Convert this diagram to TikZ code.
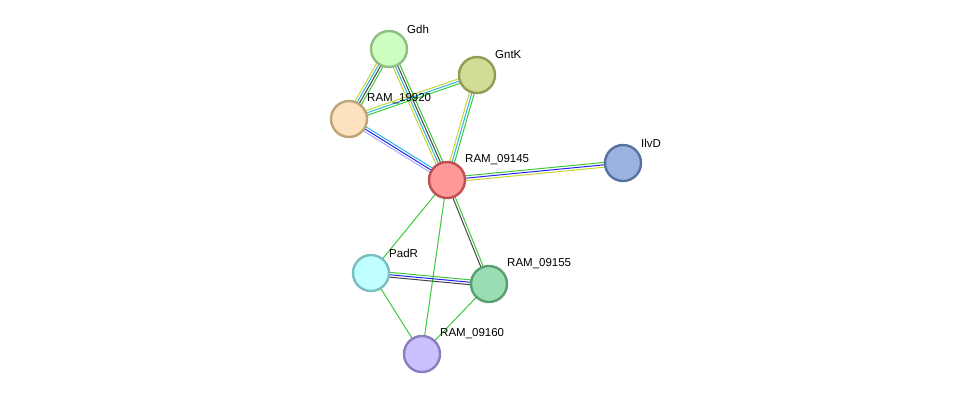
\documentclass[tikz,border=0pt]{standalone}
\usepackage{fontspec}
\setmainfont{Liberation Sans}
\usetikzlibrary{calc}
\pgfdeclarelayer{background}
\pgfsetlayers{background,main}
\definecolor{eg}{HTML}{3CC83C}
\definecolor{ec}{HTML}{27B8DC}
\definecolor{ed}{HTML}{444444}
\definecolor{ey}{HTML}{C6D630}
\definecolor{eb}{HTML}{2424EE}
\definecolor{ep}{HTML}{A8A8FF}
\tikzset{
  prot/.style={circle, minimum size=36pt, inner sep=0pt, line width=2.4pt},
  lbl/.style={anchor=west, font=\fontsize{11.5}{12}\selectfont, inner sep=0pt},
  edgeline/.style={line width=1pt},
}
\newcommand\medge[3]{%
  \foreach \c [count=\i] in {#3} {\xdef\nlines{\i}}%
  \foreach \c [count=\i] in {#3} {%
    \pgfmathsetmacro\off{(\i-(\nlines+1)/2)*2.4}%
    \draw[\c, edgeline] ($(#1)!\off pt!90:(#2)$) -- ($(#2)!\off pt!-90:(#1)$);%
  }%
}
\begin{document}
\begin{tikzpicture}[x=1pt,y=-1pt]
\useasboundingbox (0,0) rectangle (976,400);
\node[prot, fill={rgb,255:red,204;green,255;blue,192}, draw={rgb,255:red,143;green,190;blue,128}] (gdh) at (389,49) {};
\node[prot, fill={rgb,255:red,211;green,220;blue,150}, draw={rgb,255:red,146;green,156;blue,82}] (gntk) at (477,75) {};
\node[prot, fill={rgb,255:red,253;green,226;blue,192}, draw={rgb,255:red,190;green,164;blue,122}] (r19920) at (349,119) {};
\node[prot, fill={rgb,255:red,255;green,153;blue,153}, draw={rgb,255:red,190;green,80;blue,80}] (r09145) at (447,180) {};
\node[prot, fill={rgb,255:red,154;green,179;blue,224}, draw={rgb,255:red,88;green,114;blue,160}] (ilvd) at (623,163) {};
\node[prot, fill={rgb,255:red,192;green,255;blue,255}, draw={rgb,255:red,122;green,190;blue,190}] (padr) at (371,273) {};
\node[prot, fill={rgb,255:red,153;green,221;blue,179}, draw={rgb,255:red,88;green,158;blue,114}] (r09155) at (489,284) {};
\node[prot, fill={rgb,255:red,204;green,192;blue,255}, draw={rgb,255:red,138;green,126;blue,190}] (r09160) at (422,354) {};
\node[lbl] (lgdh) at (407,29) {Gdh};
\node[lbl] (lgntk) at (495,55) {GntK};
\node[lbl] (l19920) at (367,99) {RAM\_19920};
\node[lbl] (l09145) at (465,160) {RAM\_09145};
\node[lbl] (lilvd) at (641,143) {IlvD};
\node[lbl] (lpadr) at (389,253) {PadR};
\node[lbl] (l09155) at (507,264) {RAM\_09155};
\node[lbl] (l09160) at (440,334) {RAM\_09160};
\begin{pgfonlayer}{background}
\medge{gdh}{r19920}{ey,ec,ed,eg}
\medge{gdh}{r09145}{ey,ec,ed,eg}
\medge{gntk}{r19920}{ey,ec,eg}
\medge{gntk}{r09145}{ey,ec,eg}
\medge{r19920}{r09145}{ep,eb,ec}
\medge{r09145}{ilvd}{ey,eb,eg}
\medge{r09145}{padr}{eg}
\medge{r09145}{r09160}{eg}
\medge{r09145}{r09155}{ed,eg}
\medge{padr}{r09155}{ed,eb,eg}
\medge{padr}{r09160}{eg}
\medge{r09155}{r09160}{eg}
\end{pgfonlayer}
\end{tikzpicture}
\end{document}
